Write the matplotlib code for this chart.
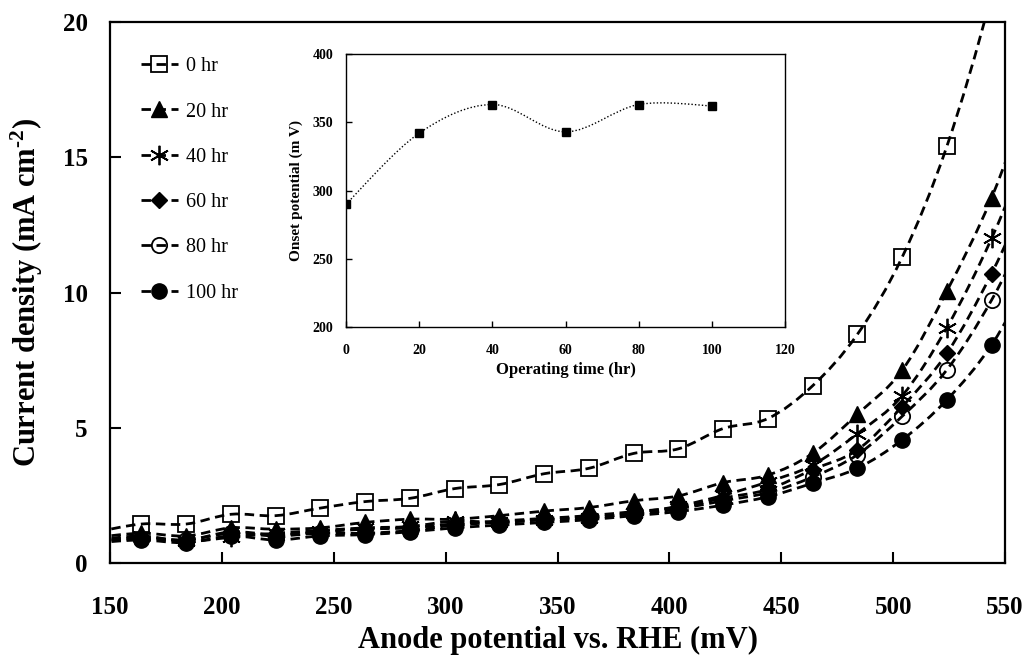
import numpy as np
import matplotlib
matplotlib.use("Agg")
import matplotlib.pyplot as plt
from matplotlib.path import Path
from matplotlib.patches import PathPatch
from matplotlib.lines import Line2D

plt.rcParams['font.family'] = ['Liberation Serif', 'DejaVu Serif']
plt.rcParams['mathtext.fontset'] = 'custom'
plt.rcParams['mathtext.rm'] = 'Liberation Serif'
plt.rcParams['mathtext.bf'] = 'Liberation Serif:bold'
plt.rcParams['mathtext.default'] = 'bf'

# ---------------- data ----------------
potential = [144, 164, 184, 204, 224, 244, 264, 284, 304, 324, 344,
             364, 384, 404, 424, 444, 464, 484, 504, 524, 544, 564]
series_labels = ['0 hr', '20 hr', '40 hr', '60 hr', '80 hr', '100 hr']
j_0hr = [1.15, 1.44, 1.44, 1.80, 1.75, 2.03, 2.27, 2.39, 2.75, 2.90, 3.30,
         3.50, 4.05, 4.22, 4.97, 5.34, 6.55, 8.45, 11.3, 15.4, 21.0, 28.0]
j_20hr = [0.95, 1.10, 1.00, 1.30, 1.25, 1.30, 1.50, 1.62, 1.62, 1.75, 1.92,
          2.05, 2.30, 2.48, 2.97, 3.25, 4.05, 5.50, 7.12, 10.05, 13.5, 18.0]
j_40hr = [0.85, 1.00, 0.80, 0.95, 1.10, 1.20, 1.30, 1.35, 1.55, 1.50, 1.60,
          1.65, 1.85, 2.10, 2.50, 3.00, 3.62, 4.78, 6.18, 8.70, 12.0, 16.0]
j_60hr = [0.80, 0.95, 0.85, 1.15, 1.05, 1.15, 1.25, 1.30, 1.45, 1.55, 1.65,
          1.75, 1.90, 2.05, 2.40, 2.72, 3.45, 4.18, 5.78, 7.75, 10.7, 14.3]
j_80hr = [0.80, 0.90, 0.85, 1.10, 1.00, 1.10, 1.10, 1.20, 1.40, 1.50, 1.60,
          1.70, 1.80, 2.00, 2.30, 2.60, 3.18, 4.00, 5.42, 7.14, 9.72, 13.0]
j_100hr = [0.75, 0.85, 0.75, 1.00, 0.85, 1.00, 1.05, 1.15, 1.30, 1.40, 1.50,
           1.60, 1.75, 1.90, 2.14, 2.45, 2.95, 3.50, 4.55, 6.03, 8.06, 11.0]

inset_time = [0, 20, 40, 60, 80, 100]
inset_onset = [290, 342, 363, 343, 363, 362]

x_ticks = [150, 200, 250, 300, 350, 400, 450, 500, 550]
y_ticks = [0, 5, 10, 15, 20]
inset_x_ticks = [0, 20, 40, 60, 80, 100, 120]
inset_y_ticks = [200, 250, 300, 350, 400]

# ---------------- helpers ----------------
def smooth_path(xs, ys):
    pts = np.column_stack([xs, ys]).astype(float)
    n = len(pts)
    verts = [pts[0]]
    codes = [Path.MOVETO]
    for i in range(n - 1):
        p0 = pts[i - 1] if i > 0 else pts[i]
        p1 = pts[i]
        p2 = pts[i + 1]
        p3 = pts[i + 2] if i + 2 < n else pts[i + 1]
        c1 = p1 + (p2 - p0) / 6.0
        c2 = p2 - (p3 - p1) / 6.0
        verts += [c1, c2, p2]
        codes += [Path.CURVE4] * 3
    return Path(verts, codes)

# ---------------- figure ----------------
fig = plt.figure(figsize=(10.31, 6.62), dpi=100)
ax = fig.add_axes([110 / 1031, 1 - 563 / 662, (1005 - 110) / 1031, (563 - 22) / 662])

styles = [
    dict(marker='s', ms=11, mfc='none', mec='black', mew=1.3),
    dict(marker='^', ms=11, mfc='black', mec='black', mew=1.0),
    dict(marker=(6, 2, 0), ms=14, mfc='black', mec='black', mew=1.3),
    dict(marker='D', ms=8, mfc='black', mec='black', mew=1.0),
    dict(marker='o', ms=11, mfc='none', mec='black', mew=1.3),
    dict(marker='o', ms=11, mfc='black', mec='black', mew=1.0),
]
all_series = [j_0hr, j_20hr, j_40hr, j_60hr, j_80hr, j_100hr]
dash = (0, (3.4, 2.0))
lw = 2.0

handles = []
for vals, st, lab in zip(all_series, styles, series_labels):
    patch = PathPatch(smooth_path(potential, vals), fill=False, edgecolor='black',
                      linewidth=lw, linestyle=dash, capstyle='butt')
    ax.add_patch(patch)
    ax.plot(potential, vals, linestyle='none', color='black', **st)
    handles.append(Line2D([0], [0], color='black', linewidth=lw, linestyle=dash, **st))

ax.set_xlim(150, 550)
ax.set_ylim(0, 20)
ax.set_xticks(x_ticks)
ax.set_yticks(y_ticks)
ax.tick_params(direction='in', length=8, width=1.5, labelsize=18, top=False, right=False)
ax.tick_params(axis='x', pad=24)
ax.tick_params(axis='y', pad=16)
for lbl in ax.get_xticklabels() + ax.get_yticklabels():
    lbl.set_fontweight('bold')
for sp in ax.spines.values():
    sp.set_linewidth(1.6)
ax.set_xlabel('Anode potential vs. RHE (mV)', fontsize=22, fontweight='bold', labelpad=5)
ax.set_ylabel('Current density (mA cm$^{\u2010\\mathbf{2}}$)', fontsize=22,
              fontweight='bold', labelpad=13)

leg = ax.legend(handles=handles, labels=series_labels, loc='upper left',
                bbox_to_anchor=(0.035, 0.935), frameon=False, fontsize=14.5,
                handlelength=1.8, handletextpad=0.4, labelspacing=1.3,
                borderpad=0, borderaxespad=0, numpoints=1)

# ---------------- inset ----------------
axi = fig.add_axes([346 / 1031, 1 - 327 / 662, (785 - 346) / 1031, (327 - 54) / 662])
axi.add_patch(PathPatch(smooth_path(inset_time, inset_onset), fill=False,
                        edgecolor='black', linewidth=1.0, linestyle=(0, (1, 1.5))))
axi.plot(inset_time, inset_onset, linestyle='none', marker='s', ms=6,
         color='black')
axi.set_xlim(0, 120)
axi.set_ylim(200, 400)
axi.set_xticks(inset_x_ticks)
axi.set_yticks(inset_y_ticks)
axi.tick_params(direction='in', length=4, width=1.0, labelsize=10, top=False, right=False)
axi.tick_params(axis='x', pad=12)
axi.tick_params(axis='y', pad=9)
for lbl in axi.get_xticklabels() + axi.get_yticklabels():
    lbl.set_fontweight('bold')
for sp in axi.spines.values():
    sp.set_linewidth(1.0)
axi.set_xlabel('Operating time (hr)', fontsize=12, fontweight='bold', labelpad=4)
axi.set_ylabel('Onset potential (m V)', fontsize=11, fontweight='bold', labelpad=7)

fig.savefig('out.png', dpi=100)
